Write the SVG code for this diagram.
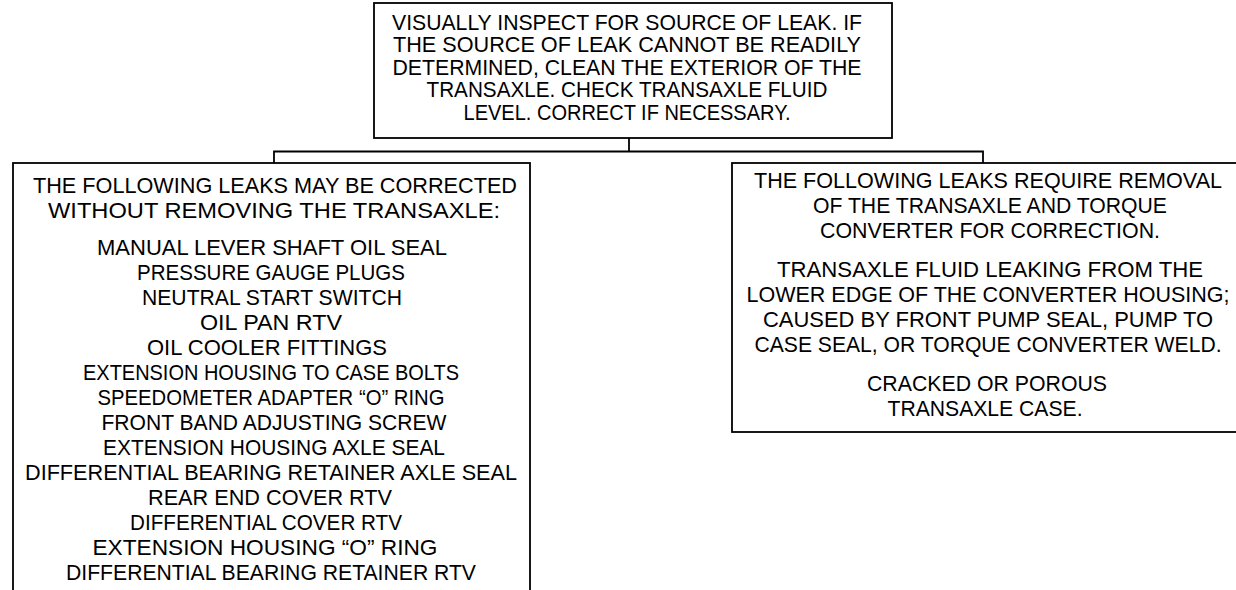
<svg xmlns="http://www.w3.org/2000/svg" width="1236" height="590" viewBox="0 0 1236 590">
  <style>
    .box { fill: #ffffff; stroke: #000000; stroke-width: 1.8; }
    .wire { fill: none; stroke: #000000; stroke-width: 1.8; }
    text { font-family: "Liberation Sans", Arial, sans-serif; font-size: 22px; fill: #000000; text-anchor: middle; }
  </style>
  <rect width="1236" height="590" fill="#ffffff"/>

  <!-- branch lines from the inspection step to the two outcome boxes -->
  <g id="connectors">
    <path class="wire" d="M629 138 V151.5"/>
    <path class="wire" d="M274 163 V151.5 H983 V163"/>
  </g>

  <g id="inspect">
    <rect class="box" x="374" y="3" width="518" height="135"/>
    <text x="627" y="30" textLength="470" lengthAdjust="spacingAndGlyphs">VISUALLY INSPECT FOR SOURCE OF LEAK. IF</text>
    <text x="627" y="52" textLength="468" lengthAdjust="spacingAndGlyphs">THE SOURCE OF LEAK CANNOT BE READILY</text>
    <text x="627" y="75" textLength="469" lengthAdjust="spacingAndGlyphs">DETERMINED, CLEAN THE EXTERIOR OF THE</text>
    <text x="627" y="97" textLength="401" lengthAdjust="spacingAndGlyphs">TRANSAXLE. CHECK TRANSAXLE FLUID</text>
    <text x="627" y="120" textLength="327" lengthAdjust="spacingAndGlyphs">LEVEL. CORRECT IF NECESSARY.</text>
  </g>

  <g id="in-car-repairs">
    <rect class="box" x="13" y="163" width="517" height="440"/>
    <text x="275" y="193" textLength="484" lengthAdjust="spacingAndGlyphs">THE FOLLOWING LEAKS MAY BE CORRECTED</text>
    <text x="274" y="218" textLength="452" lengthAdjust="spacingAndGlyphs">WITHOUT REMOVING THE TRANSAXLE:</text>
    <text x="272" y="255" textLength="350" lengthAdjust="spacingAndGlyphs">MANUAL LEVER SHAFT OIL SEAL</text>
    <text x="271" y="280" textLength="268" lengthAdjust="spacingAndGlyphs">PRESSURE GAUGE PLUGS</text>
    <text x="272" y="305" textLength="260" lengthAdjust="spacingAndGlyphs">NEUTRAL START SWITCH</text>
    <text x="271" y="330" textLength="142" lengthAdjust="spacingAndGlyphs">OIL PAN RTV</text>
    <text x="267" y="355" textLength="240" lengthAdjust="spacingAndGlyphs">OIL COOLER FITTINGS</text>
    <text x="271" y="380" textLength="376" lengthAdjust="spacingAndGlyphs">EXTENSION HOUSING TO CASE BOLTS</text>
    <text x="271" y="405" textLength="347" lengthAdjust="spacingAndGlyphs">SPEEDOMETER ADAPTER “O” RING</text>
    <text x="274" y="430" textLength="345" lengthAdjust="spacingAndGlyphs">FRONT BAND ADJUSTING SCREW</text>
    <text x="274" y="455" textLength="342" lengthAdjust="spacingAndGlyphs">EXTENSION HOUSING AXLE SEAL</text>
    <text x="271" y="480" textLength="492" lengthAdjust="spacingAndGlyphs">DIFFERENTIAL BEARING RETAINER AXLE SEAL</text>
    <text x="270" y="505" textLength="244" lengthAdjust="spacingAndGlyphs">REAR END COVER RTV</text>
    <text x="266" y="530" textLength="272" lengthAdjust="spacingAndGlyphs">DIFFERENTIAL COVER RTV</text>
    <text x="265" y="555" textLength="345" lengthAdjust="spacingAndGlyphs">EXTENSION HOUSING “O” RING</text>
    <text x="271" y="580" textLength="410" lengthAdjust="spacingAndGlyphs">DIFFERENTIAL BEARING RETAINER RTV</text>
  </g>

  <g id="removal-repairs">
    <rect class="box" x="732" y="163" width="510" height="269"/>
    <text x="988" y="188" textLength="468" lengthAdjust="spacingAndGlyphs">THE FOLLOWING LEAKS REQUIRE REMOVAL</text>
    <text x="990" y="213" textLength="354" lengthAdjust="spacingAndGlyphs">OF THE TRANSAXLE AND TORQUE</text>
    <text x="990" y="238" textLength="340" lengthAdjust="spacingAndGlyphs">CONVERTER FOR CORRECTION.</text>
    <text x="990" y="277" textLength="426" lengthAdjust="spacingAndGlyphs">TRANSAXLE FLUID LEAKING FROM THE</text>
    <text x="988" y="302" textLength="483" lengthAdjust="spacingAndGlyphs">LOWER EDGE OF THE CONVERTER HOUSING;</text>
    <text x="988" y="327" textLength="450" lengthAdjust="spacingAndGlyphs">CAUSED BY FRONT PUMP SEAL, PUMP TO</text>
    <text x="988" y="352" textLength="467" lengthAdjust="spacingAndGlyphs">CASE SEAL, OR TORQUE CONVERTER WELD.</text>
    <text x="987" y="391" textLength="240" lengthAdjust="spacingAndGlyphs">CRACKED OR POROUS</text>
    <text x="985" y="416" textLength="195" lengthAdjust="spacingAndGlyphs">TRANSAXLE CASE.</text>
  </g>
</svg>
